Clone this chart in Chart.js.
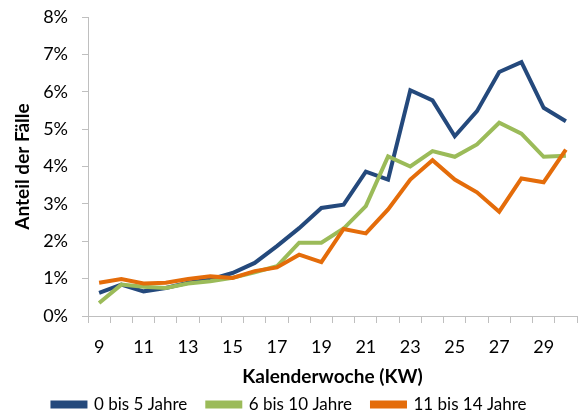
<!DOCTYPE html>
<html>
<head>
<meta charset="utf-8">
<script src="https://cdn.jsdelivr.net/npm/chart.js@4"></script>
<style>
  html, body { margin: 0; padding: 0; background: #fff; }
  #wrap { width: 579px; height: 416px; }
</style>
</head>
<body>
<div id="wrap"><canvas id="lineChart"></canvas></div>
<script>
// Kalenderwochen 9 - 30
const weeks = ['9', '10', '11', '12', '13', '14', '15', '16', '17', '18', '19', '20', '21', '22', '23', '24', '25', '26', '27', '28', '29', '30'];

// Anteil der Fälle in %
const age0to5 = [0.62, 0.84, 0.66, 0.75, 0.89, 0.98, 1.15, 1.42, 1.87, 2.35, 2.89, 2.98, 3.86, 3.65, 6.04, 5.77, 4.81, 5.48, 6.53, 6.79, 5.57, 5.21];
const age6to10 = [0.35, 0.84, 0.78, 0.75, 0.87, 0.93, 1.02, 1.17, 1.33, 1.96, 1.96, 2.34, 2.94, 4.27, 4.00, 4.41, 4.26, 4.59, 5.17, 4.88, 4.26, 4.29];
const age11to14 = [0.89, 0.99, 0.87, 0.89, 0.99, 1.06, 1.02, 1.20, 1.30, 1.64, 1.44, 2.33, 2.21, 2.85, 3.65, 4.17, 3.65, 3.31, 2.79, 3.68, 3.58, 4.45];

const yTicks = [0, 1, 2, 3, 4, 5, 6, 7, 8];

const FONT = 'Lato, "Open Sans", sans-serif';
const AXIS_GREY = '#bfbfbf';
const TEXT = '#000000';

const ctx = document.getElementById('lineChart');

const chart = new Chart(ctx, {
    type: 'line',
    data: {
        labels: weeks,
        datasets: [
            { label: '0 bis 5 Jahre', data: age0to5, borderColor: '#24497c', backgroundColor: '#24497c', order: 2 },
            { label: '6 bis 10 Jahre', data: age6to10, borderColor: '#9bbb59', backgroundColor: '#9bbb59', order: 1 },
            { label: '11 bis 14 Jahre', data: age11to14, borderColor: '#e46c0a', backgroundColor: '#e46c0a', order: 0 }
        ]
    },
    options: {
        responsive: true,
        maintainAspectRatio: false,
        animation: false,
        elements: {
            line: { borderWidth: 4, tension: 0, borderJoinStyle: 'miter' },
            point: { radius: 0, hoverRadius: 0 }
        },
        layout: { padding: 0 },
        plugins: {
            tooltip: { enabled: false },
            legend: {
                position: 'bottom',
                labels: {
                    color: TEXT,
                    font: { family: FONT, size: 17 },
                    boxWidth: 33,
                    boxHeight: 4,
                    padding: 20,
                    sort: (a, b) => a.datasetIndex - b.datasetIndex
                }
            }
        },
        scales: {
            x: {
                offset: true,
                afterFit: (scale) => { scale.height = 60; },
                grid: {
                    display: true,
                    offset: true,
                    drawOnChartArea: false,
                    drawTicks: true,
                    tickLength: 7,
                    color: AXIS_GREY
                },
                border: { display: true, color: AXIS_GREY, width: 1 },
                ticks: {
                    color: TEXT,
                    font: { family: FONT, size: 18 },
                    padding: 13,
                    autoSkip: false,
                    maxRotation: 0,
                    callback: function (value, index) {
                        return index % 2 === 0 ? this.getLabelForValue(value) : '';
                    }
                },
                title: {
                    display: true,
                    text: 'Kalenderwoche (KW)',
                    color: TEXT,
                    font: { family: FONT, size: 19, weight: 'bold' },
                    padding: { top: 0, bottom: -12 }
                }
            },
            y: {
                min: 0,
                max: 8,
                afterFit: (scale) => {
                    scale.width = 88;
                    scale.paddingTop = 17;
                    scale.paddingBottom = 0;
                },
                afterBuildTicks: (scale) => {
                    scale.ticks = yTicks.map(v => ({ value: v }));
                },
                grid: {
                    display: true,
                    drawOnChartArea: false,
                    drawTicks: true,
                    tickLength: 6,
                    color: AXIS_GREY
                },
                border: { display: true, color: AXIS_GREY, width: 1 },
                ticks: {
                    color: TEXT,
                    font: { family: FONT, size: 18 },
                    padding: 14,
                    callback: (value) => value + '%'
                },
                title: {
                    display: true,
                    text: 'Anteil der Fälle',
                    color: TEXT,
                    font: { family: FONT, size: 19, weight: 'bold' },
                    padding: { top: 11, bottom: 0 }
                }
            }
        }
    }
});

// legend box a bit flatter so it sits lower, like the original
const legendFit = chart.legend.fit;
chart.legend.fit = function () {
    legendFit.call(this);
    this.height = 40;
};
chart.update();
</script>
</body>
</html>
